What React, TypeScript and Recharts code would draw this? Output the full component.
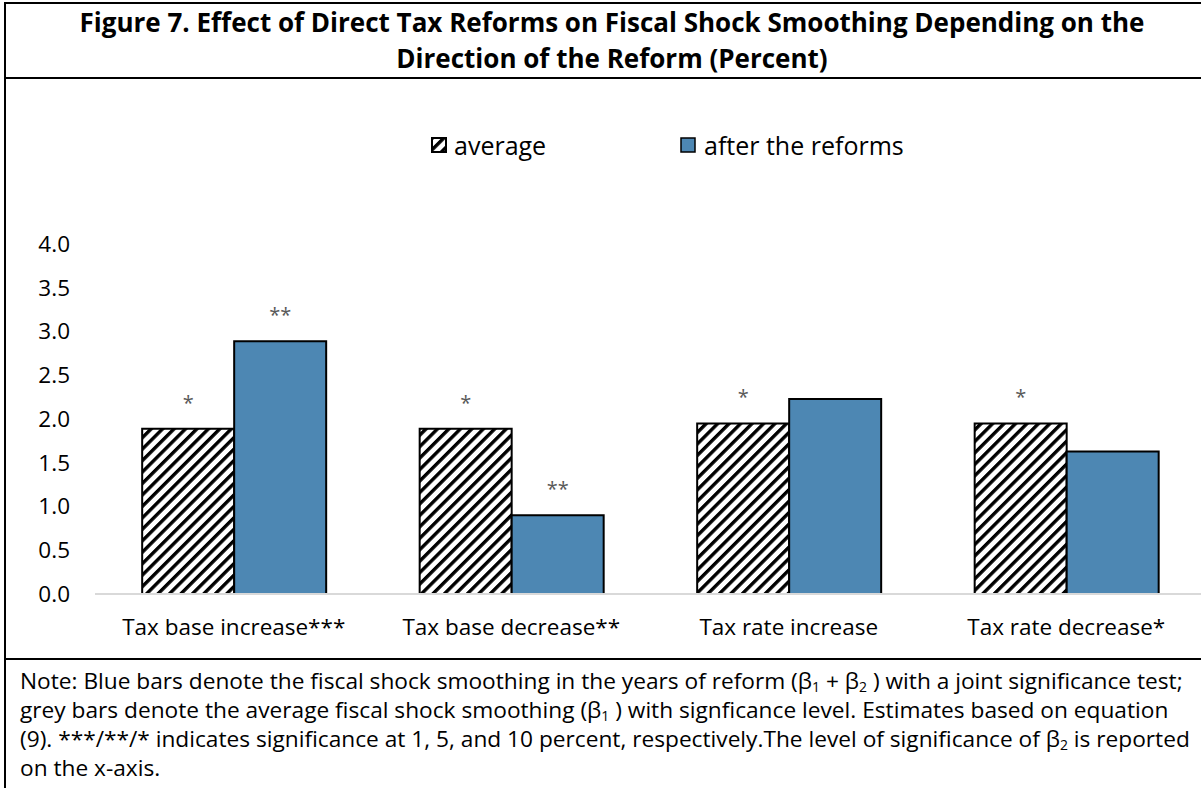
import React from 'react';
import { BarChart, Bar, XAxis, YAxis, LabelList } from 'recharts';

const categories = ['Tax base increase***', 'Tax base decrease**', 'Tax rate increase', 'Tax rate decrease*'];
const averageValues = [1.89, 1.89, 1.95, 1.95];
const afterReformValues = [2.89, 0.9, 2.23, 1.63];
const averageStars = ['*', '*', '*', '*'];
const afterReformStars = ['**', '**', '', ''];
const yTicks = [0, 0.5, 1, 1.5, 2, 2.5, 3, 3.5, 4];

const chartData = categories.map((name, i) => ({
  name,
  average: averageValues[i],
  after: afterReformValues[i],
}));

const FONT = "'Open Sans', 'Noto Sans', sans-serif";
const BLUE = '#4D87B3';

const HatchDefs = ({ id }: { id: string }) => (
  <defs>
    <pattern id={id} patternUnits='userSpaceOnUse' width={8.1} height={8.1} patternTransform='rotate(45)'>
      <rect x={0} y={0} width={8.1} height={8.1} fill='#fff' />
      <rect x={0} y={0} width={3.4} height={8.1} fill='#000' />
    </pattern>
  </defs>
);

const starLabel = (stars: string[]) => (props: any) => {
  const { x, y, width, index } = props;
  const s = stars[index];
  if (!s) return null;
  return (
    <text x={x + width / 2} y={y - 19} textAnchor='middle' fill='#595959' fontSize={20} fontFamily={FONT}>
      {s}
    </text>
  );
};

const Sub = ({ children }: { children: React.ReactNode }) => (
  <sub style={{ fontSize: 14, verticalAlign: -3, lineHeight: 0 }}>{children}</sub>
);

export default function App() {
  return (
    <div
      style={{
        position: 'absolute',
        left: 0,
        top: 0,
        width: 1201,
        height: 788,
        overflow: 'hidden',
        background: '#fff',
        fontFamily: FONT,
      }}
    >
      <div
        style={{
          position: 'absolute',
          left: 4,
          top: 2,
          width: 1216,
          height: 820,
          boxSizing: 'border-box',
          borderLeft: '2px solid #000',
          borderTop: '2px solid #000',
          borderRight: '2px solid #000',
        }}
      >
        {/* title */}
        <div
          style={{
            height: 75,
            boxSizing: 'border-box',
            borderBottom: '2px solid #000',
            textAlign: 'center',
            fontWeight: 700,
            fontSize: 26,
            lineHeight: '36px',
            color: '#000',
            whiteSpace: 'nowrap',
          }}
        >
          Figure 7. Effect of Direct Tax Reforms on Fiscal Shock Smoothing Depending on the
          <br />
          Direction of the Reform (Percent)
        </div>

        {/* chart */}
        <div style={{ position: 'relative', height: 581, boxSizing: 'border-box', borderBottom: '2px solid #000' }}>
          <div
            style={{
              position: 'absolute',
              left: 0,
              top: 51,
              width: 1204,
              height: 30,
              fontSize: 25,
              lineHeight: '30px',
              color: '#000',
              zIndex: 2,
            }}
          >
            <svg style={{ position: 'absolute', left: 425, top: 7 }} width={16} height={16}>
              <HatchDefs id='hatchLegend' />
              <rect x={1} y={1} width={14} height={14} fill='url(#hatchLegend)' stroke='#000' strokeWidth={2} />
            </svg>
            <span style={{ position: 'absolute', left: 448, top: 0, whiteSpace: 'nowrap' }}>average</span>
            <svg style={{ position: 'absolute', left: 674, top: 7 }} width={16} height={16}>
              <rect x={1} y={1} width={14} height={14} fill={BLUE} stroke='#000' strokeWidth={1.5} />
            </svg>
            <span style={{ position: 'absolute', left: 698, top: 0, whiteSpace: 'nowrap' }}>after the reforms</span>
          </div>

          <BarChart
            width={1204}
            height={579}
            data={chartData}
            margin={{ top: 165, right: 5, left: 0, bottom: 0 }}
            barCategoryGap='17%'
            barGap={0}
          >
            <HatchDefs id='hatchBar' />
            <XAxis
              dataKey='name'
              height={64}
              axisLine={{ stroke: '#d9d9d9', strokeWidth: 2 }}
              tickLine={false}
              tickSize={6}
              tickMargin={19}
              interval={0}
              tick={{ fill: '#000', fontSize: 22.5, fontFamily: FONT }}
            />
            <YAxis
              domain={[0, 4]}
              ticks={yTicks}
              width={89}
              axisLine={false}
              tickLine={false}
              tickSize={6}
              tickMargin={19}
              tickFormatter={(v: number) => v.toFixed(1)}
              tick={{ fill: '#000', fontSize: 22.5, fontFamily: FONT }}
            />
            <Bar dataKey='average' fill='url(#hatchBar)' stroke='#000' strokeWidth={2} isAnimationActive={false}>
              <LabelList dataKey='average' content={starLabel(averageStars)} />
            </Bar>
            <Bar dataKey='after' fill={BLUE} stroke='#000' strokeWidth={2} isAnimationActive={false}>
              <LabelList dataKey='after' content={starLabel(afterReformStars)} />
            </Bar>
          </BarChart>
        </div>

        {/* note */}
        <div
          style={{
            boxSizing: 'border-box',
            paddingTop: 6,
            paddingLeft: 14,
            fontSize: 22.7,
            lineHeight: '29px',
            color: '#000',
            whiteSpace: 'nowrap',
          }}
        >
          Note: Blue bars denote the fiscal shock smoothing in the years of reform (β<Sub>1</Sub> + β<Sub>2</Sub> ) with a
          joint significance test;
          <br />
          grey bars denote the average fiscal shock smoothing (β<Sub>1</Sub> ) with signficance level. Estimates based on
          equation
          <br />
          (9). ***/**/* indicates significance at 1, 5, and 10 percent, respectively.The level of significance of β
          <Sub>2</Sub> is reported
          <br />
          on the x-axis.
        </div>
      </div>
    </div>
  );
}
